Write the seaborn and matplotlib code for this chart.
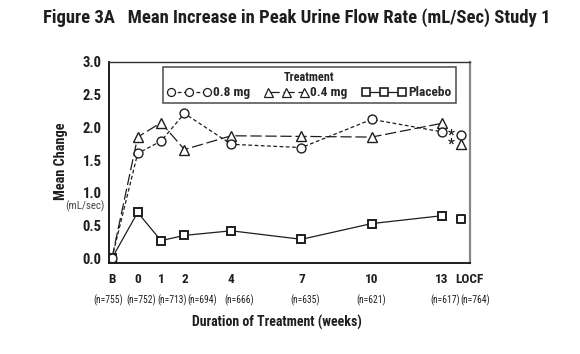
import matplotlib
matplotlib.use("Agg")
import matplotlib.pyplot as plt
from matplotlib import font_manager as fm
import matplotlib.transforms as mtrans
import seaborn as sns
import pandas as pd
from matplotlib.lines import Line2D

# ---- data ----
tick_labels = ["B", "0", "1", "2", "4", "7", "10", "13", "LOCF"]
weeks = [-1.1, 0, 1, 2, 4, 7, 10, 13]          # B plotted just left of week 0
locf_pos = 13.8
n_labels = ["(n=755)", "(n=752)", "(n=713)", "(n=694)", "(n=666)",
            "(n=635)", "(n=621)", "(n=617)", "(n=764)"]

mg08 = [0.0, 1.60, 1.79, 2.21, 1.74, 1.69, 2.12, 1.93]
mg04 = [0.0, 1.85, 2.07, 1.66, 1.87, 1.86, 1.85, 2.06]
placebo = [0.0, 0.70, 0.27, 0.35, 0.42, 0.29, 0.53, 0.65]
locf_08 = 1.88
locf_04 = 1.74
locf_pl = 0.60

df = pd.DataFrame({"week": weeks, "0.8 mg": mg08, "0.4 mg": mg04, "Placebo": placebo})
df_locf = pd.DataFrame({"week": [locf_pos] * 3,
                        "value": [locf_08, locf_04, locf_pl],
                        "series": ["0.8 mg", "0.4 mg", "Placebo"]})

sns.set_style("white")
available = {f.name for f in fm.fontManager.ttflist}
narrow = "DejaVu Sans"
for cand in ["Roboto Condensed", "Archivo Narrow", "Asap Condensed", "Barlow Condensed",
             "Liberation Sans Narrow"]:
    if cand in available:
        narrow = cand
        break
plt.rcParams["font.family"] = [narrow, "DejaVu Sans"]

fig = plt.figure(figsize=(5.8, 3.54), dpi=100)
ax = fig.add_axes([0.1885, 0.2562, 0.6218, 0.5695])

lc = "#1e1e1e"
styles = {
    "0.8 mg": dict(marker="o", linestyle=(0, (3, 2)), markersize=6.4),
    "0.4 mg": dict(marker="^", linestyle=(0, (9, 3)), markersize=7.2),
    "Placebo": dict(marker="s", linestyle="-", markersize=6.0),
}
for name in ["Placebo", "0.4 mg", "0.8 mg"]:
    st = styles[name]
    sns.lineplot(data=df, x="week", y=name, ax=ax, color=lc, linewidth=0.9,
                 linestyle=st["linestyle"], marker=st["marker"],
                 markersize=st["markersize"], markerfacecolor="white",
                 markeredgecolor=lc, markeredgewidth=1.4 if name == "Placebo" else 1.0,
                 legend=False)
    sub = df_locf[df_locf["series"] == name]
    sns.scatterplot(data=sub, x="week", y="value", ax=ax, marker=st["marker"],
                    s=st["markersize"] ** 2, facecolor="white", edgecolor=lc,
                    linewidth=1.4 if name == "Placebo" else 1.0, legend=False, zorder=5)

# asterisks for significance at LOCF
for v in [locf_08, locf_04]:
    ax.annotate("*", xy=(locf_pos, v), xytext=(-6.5, 0), textcoords="offset points",
                ha="center", va="center", fontsize=11, fontweight="bold", color=lc)

ax.set_xlim(-1.21, 14.2)
ax.set_ylim(-0.076, 3.0)

all_ticks = [-1.1] + list(range(0, 14)) + [locf_pos]
ax.set_xticks(all_ticks)
label_map = {-1.1: "B", 0: "0", 1: "1", 2: "2", 4: "4", 7: "7", 10: "10", 13: "13", locf_pos: "LOCF"}
ax.set_xticklabels([label_map.get(t, "") for t in all_ticks], fontsize=9.5, fontweight="bold")
ax.set_yticks([0, 0.5, 1.0, 1.5, 2.0, 2.5, 3.0])
ax.set_yticklabels(["0.0", "0.5", "1.0", "1.5", "2.0", "2.5", "3.0"], fontsize=10.5, fontweight="bold")
ax.tick_params(axis="both", direction="out", width=1.2, color=lc, labelcolor=lc)
ax.tick_params(axis="y", length=5, pad=0.5)
ax.tick_params(axis="x", length=3.6, pad=3.5)
# LOCF label sits a little right of its tick
locf_lab = ax.get_xticklabels()[-1]
locf_lab.set_transform(locf_lab.get_transform() +
                       mtrans.ScaledTranslation(9 / 100, 0, fig.dpi_scale_trans))
ax.set_xlabel("")
ax.set_ylabel("")

for s in ["left", "bottom"]:
    ax.spines[s].set_color(lc)
    ax.spines[s].set_linewidth(1.4)
ax.spines["top"].set_color("#333333")
ax.spines["top"].set_linewidth(1.0)
ax.spines["right"].set_color("#888888")
ax.spines["right"].set_linewidth(1.6)

# n labels under ticks
n_x = [-1.27, 0.13, 1.47, 2.74, 4.36, 7.17, 9.97, 13.13, 14.44]
for x, t in zip(n_x, n_labels):
    ax.text(x, -0.185, t, transform=ax.get_xaxis_transform(), ha="center", va="center",
            fontsize=6.9, color=lc)

fig.text(277 / 580, 1 - 322 / 354, "Duration of Treatment (weeks)", ha="center", va="center",
         fontsize=10, fontweight="bold", color=lc)
fig.text(60.7 / 580, 1 - 161 / 354, "Mean Change", ha="center", va="center", rotation=90,
         fontsize=10.3, fontweight="bold", color=lc)
fig.text(85 / 580, 1 - 206 / 354, "(mL/sec)", ha="center", va="center",
         fontsize=7.8, color="#444444")
fig.text(43 / 580, 1 - 18 / 354,
         "Figure 3A   Mean Increase in Peak Urine Flow Rate (mL/Sec) Study 1",
         ha="left", va="center", fontsize=13.4, fontweight="bold", color=lc)

# legend
handles = []
for name in ["0.8 mg", "0.4 mg", "Placebo"]:
    st = styles[name]
    handles.append(Line2D([0], [0], color=lc, linewidth=0.9, linestyle=st["linestyle"],
                          marker=st["marker"], markersize=st["markersize"] * 0.9,
                          markerfacecolor="white", markeredgecolor=lc,
                          markeredgewidth=1.2 if name == "Placebo" else 0.9))
leg = ax.legend(handles, ["0.8 mg", "0.4 mg", "Placebo"], title="Treatment", ncol=3,
                loc="upper center", bbox_to_anchor=(0.554, 0.975), numpoints=3,
                handlelength=3.3, handletextpad=0.15, columnspacing=1.1,
                frameon=True, fancybox=False, borderpad=0.3, labelspacing=0.2,
                borderaxespad=0, prop={"weight": "bold", "size": 9.6})
leg.get_title().set_fontweight("bold")
leg.get_title().set_fontsize(8.8)
leg.get_frame().set_edgecolor(lc)
leg.get_frame().set_linewidth(1.1)

fig.savefig("out.png", dpi=100)
